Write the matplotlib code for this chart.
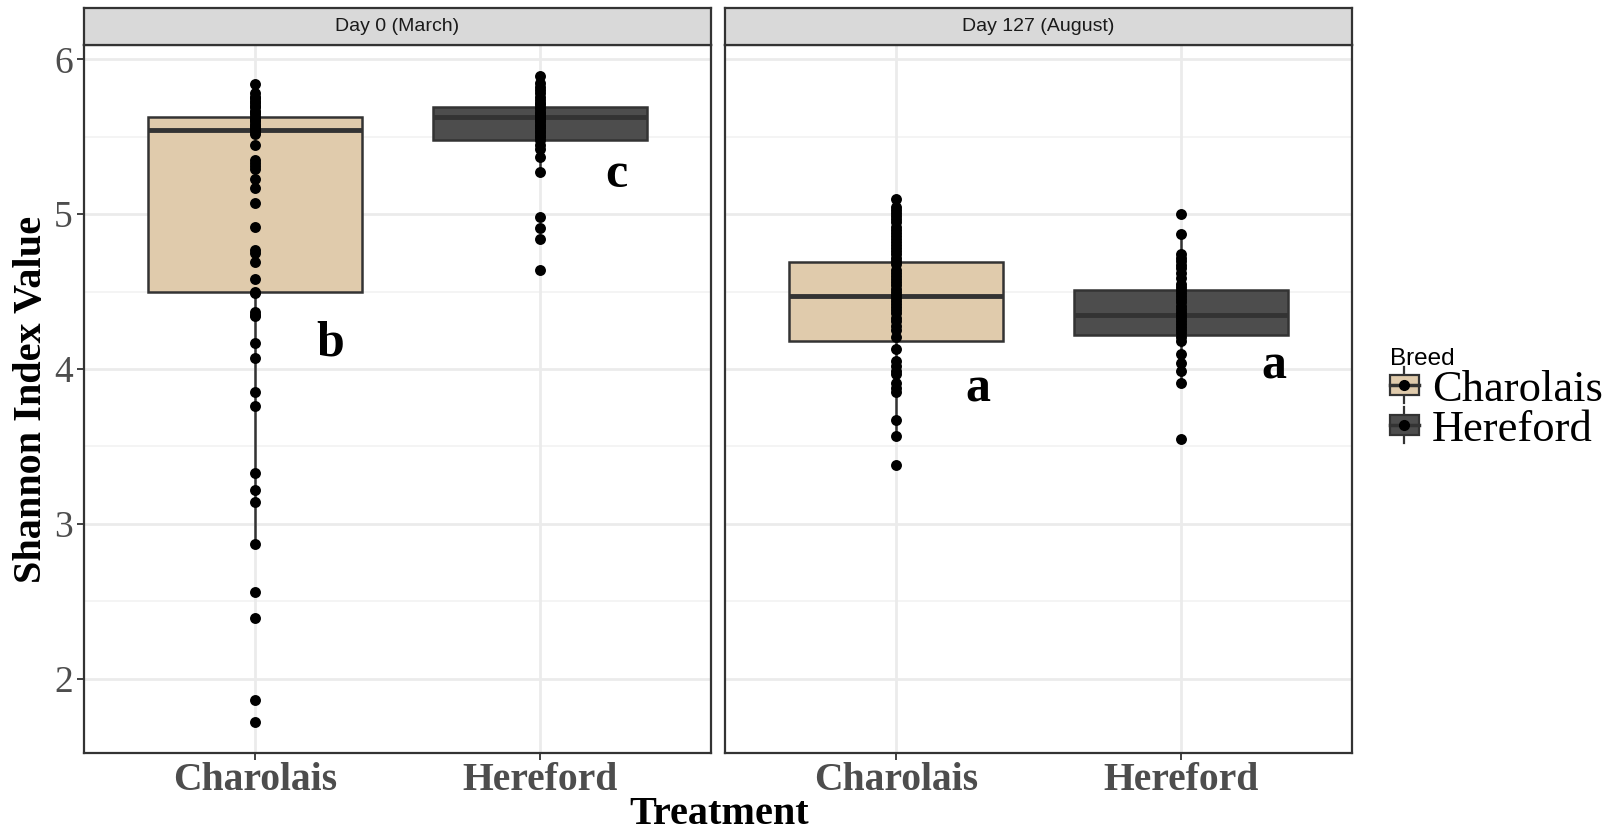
import numpy as np
import matplotlib
matplotlib.use("Agg")
import matplotlib.pyplot as plt
from matplotlib.patches import Rectangle
from matplotlib.lines import Line2D
from matplotlib.legend_handler import HandlerBase

# panels and breeds
panels = ["Day 0 (March)", "Day 127 (August)"]
breeds = ["Charolais", "Hereford"]
colors = {"Charolais": "#e0cbac", "Hereford": "#4d4d4d"}

# Shannon values
day0_charolais = [5.84, 5.78, 5.76, 5.75, 5.73, 5.72, 5.70, 5.69, 5.67, 5.66, 5.65,
                  5.63, 5.62, 5.61, 5.60, 5.58, 5.57, 5.56, 5.55, 5.53, 5.52, 5.45,
                  5.35, 5.33, 5.31, 5.29, 5.23, 5.17, 5.07, 4.92, 4.77, 4.75, 4.69,
                  4.58, 4.50, 4.49, 4.37, 4.35, 4.34, 4.17, 4.07, 3.85, 3.76, 3.33,
                  3.22, 3.14, 2.87, 2.56, 2.39, 1.86, 1.72]
day0_hereford = [5.89, 5.85, 5.82, 5.80, 5.78, 5.76, 5.74, 5.72, 5.71, 5.69, 5.68,
                 5.66, 5.65, 5.64, 5.63, 5.62, 5.61, 5.60, 5.58, 5.57, 5.56, 5.54,
                 5.53, 5.51, 5.50, 5.48, 5.45, 5.42, 5.37, 5.27, 4.98, 4.91, 4.84, 4.64]
day127_charolais = [5.10, 5.05, 5.03, 5.01, 4.99, 4.97, 4.95, 4.92, 4.90, 4.88, 4.86,
                    4.84, 4.82, 4.80, 4.78, 4.76, 4.74, 4.72, 4.70, 4.68, 4.64, 4.62,
                    4.60, 4.58, 4.56, 4.54, 4.52, 4.50, 4.48, 4.46, 4.44, 4.42, 4.40,
                    4.38, 4.36, 4.33, 4.31, 4.28, 4.25, 4.21, 4.13, 4.05, 4.02, 3.99,
                    3.97, 3.91, 3.88, 3.85, 3.67, 3.57, 3.38]
day127_hereford = [5.00, 4.87, 4.74, 4.72, 4.70, 4.67, 4.65, 4.62, 4.59, 4.55, 4.53,
                   4.51, 4.49, 4.47, 4.45, 4.43, 4.41, 4.39, 4.37, 4.35, 4.33, 4.31,
                   4.29, 4.27, 4.25, 4.23, 4.21, 4.18, 4.10, 4.04, 3.99, 3.91, 3.55]

# box stats (whisker low, q1, median, q3, whisker high)
box_day0 = {"Charolais": (2.87, 4.50, 5.545, 5.63, 5.84),
            "Hereford": (5.27, 5.48, 5.63, 5.69, 5.89)}
box_day127 = {"Charolais": (3.57, 4.18, 4.47, 4.69, 5.10),
              "Hereford": (3.91, 4.22, 4.35, 4.51, 4.87)}

points = [{"Charolais": day0_charolais, "Hereford": day0_hereford},
          {"Charolais": day127_charolais, "Hereford": day127_hereford}]
boxes = [box_day0, box_day127]

# significance letters: (x, y, letter)
letters = [[(1.265, 4.09, "b"), (2.267, 5.175, "c")],
           [(1.287, 3.79, "a"), (2.325, 3.94, "a")]]

serif = ["Liberation Serif", "DejaVu Serif"]
sans = ["Liberation Sans", "DejaVu Sans"]

fig = plt.figure(figsize=(16.1, 8.35), dpi=100)
W, H = 1610, 835
px_x = lambda p: p / W
px_y = lambda p: 1 - p / H

lefts = [84, 725]
pw = 627
top, bottom = 45.2, 752.5
strip_top = 8.2

axes = []
for i, name in enumerate(panels):
    ax = fig.add_axes([px_x(lefts[i]), px_y(bottom), pw / W, (bottom - top) / H])
    axes.append(ax)
    ax.set_xlim(0.4, 2.6)
    ax.set_ylim(1.523, 6.092)
    ax.set_facecolor("white")
    for y in [2, 3, 4, 5, 6]:
        ax.axhline(y, color="#ebebeb", lw=2.0, zorder=0)
    for y in [1.5, 2.5, 3.5, 4.5, 5.5]:
        ax.axhline(y, color="#f2f2f2", lw=1.2, zorder=0)
    for x in [1, 2]:
        ax.axvline(x, color="#ebebeb", lw=2.0, zorder=0)

    stats = []
    for b in breeds:
        lo, q1, med, q3, hi = boxes[i][b]
        stats.append({"whislo": lo, "q1": q1, "med": med, "q3": q3, "whishi": hi,
                      "fliers": [], "label": b})
    bp = ax.bxp(stats, positions=[1, 2], widths=0.75, patch_artist=True,
                showcaps=False, showfliers=False,
                boxprops=dict(edgecolor="#333333", linewidth=1.8),
                whiskerprops=dict(color="#333333", linewidth=1.8),
                medianprops=dict(color="#333333", linewidth=3.5), manage_ticks=False)
    for patch, b in zip(bp["boxes"], breeds):
        patch.set_facecolor(colors[b])
        patch.set_zorder(2)
    for j, b in enumerate(breeds):
        vals = points[i][b]
        ax.scatter(np.full(len(vals), j + 1), vals, s=62, color="black", zorder=4,
                   linewidths=0)

    for x, y, t in letters[i]:
        ax.text(x, y, t, fontsize=36, fontweight="bold", family=serif,
                ha="center", va="baseline", color="black", zorder=5)

    ax.set_xticks([1, 2])
    ax.set_xticklabels(breeds, fontsize=28.5, fontweight="bold", family=serif,
                       color="#4d4d4d")
    ax.tick_params(axis="x", length=5, width=1.3, color="#333333", pad=2)
    if i == 0:
        ax.set_yticks([2, 3, 4, 5, 6])
        ax.set_yticklabels(["2", "3", "4", "5", "6"], fontsize=27, family=serif,
                           color="#4d4d4d")
        ax.tick_params(axis="y", length=5, width=1.3, color="#333333", pad=3)
    else:
        ax.set_yticks([])
    for sp in ax.spines.values():
        sp.set_color("#333333")
        sp.set_linewidth(1.6)
        sp.set_zorder(6)

    # facet strip
    sax = fig.add_axes([px_x(lefts[i]), px_y(top), pw / W, (top - strip_top) / H])
    sax.set_facecolor("#d9d9d9")
    sax.set_xticks([])
    sax.set_yticks([])
    for sp in sax.spines.values():
        sp.set_color("#333333")
        sp.set_linewidth(1.6)
    sax.text(0.5, 0.5, name, transform=sax.transAxes, ha="center", va="center",
             fontsize=14, family=sans, color="#1a1a1a")

fig.text(px_x(719), px_y(815), "Treatment", fontsize=29, fontweight="bold",
         family=serif, ha="center", va="center")
fig.text(px_x(32), px_y(399), "Shannon Index Value", fontsize=29, fontweight="bold",
         family=serif, ha="center", va="center", rotation=90)


class BoxKey(HandlerBase):
    def create_artists(self, legend, orig_handle, xdescent, ydescent, width, height,
                       fontsize, trans):
        c = orig_handle.get_facecolor()
        cx = width / 2 - xdescent
        rect = Rectangle((-xdescent, -ydescent + height * 0.1), width, height * 0.8,
                         facecolor=c, edgecolor="#333333", lw=1.6, transform=trans)
        vline = Line2D([cx, cx], [-ydescent - height * 0.2, -ydescent + height * 1.2],
                       color="#333333", lw=1.6, transform=trans)
        hline = Line2D([-xdescent, width - xdescent], [height / 2 - ydescent] * 2,
                       color="#333333", lw=2.5, transform=trans)
        dot = Line2D([cx], [height / 2 - ydescent], marker="o", color="black",
                     markersize=7, transform=trans)
        return [vline, rect, hline, dot]


handles = [Rectangle((0, 0), 1, 1, facecolor=colors[b]) for b in breeds]
leg = fig.legend(handles, breeds, handler_map={Rectangle: BoxKey()},
                 loc="upper left", bbox_to_anchor=(px_x(1390), px_y(348)),
                 frameon=False, prop={"family": serif, "size": 32},
                 title="Breed", title_fontproperties={"family": sans, "size": 17.5},
                 handlelength=0.65, handleheight=0.5, handletextpad=0.3,
                 labelspacing=0.0, borderaxespad=0, borderpad=0)
leg._legend_box.align = "left"

fig.savefig("out.png", dpi=100, facecolor="white")
